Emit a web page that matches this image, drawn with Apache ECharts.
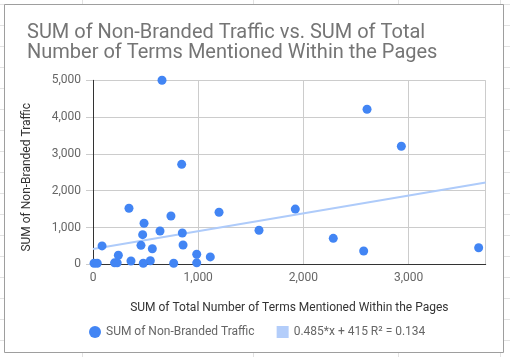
<!DOCTYPE html>
<html><head><meta charset="utf-8">
<script src="https://cdn.jsdelivr.net/npm/echarts@6/dist/echarts.min.js"></script>
<style>html,body{margin:0;padding:0;background:#fff}#c{width:510px;height:357px}</style>
</head><body><div id="c"></div>
<script>
const titleText = 'SUM of Non-Branded Traffic vs. SUM of Total\nNumber of Terms Mentioned Within the Pages';
const xAxisTitle = 'SUM of Total Number of Terms Mentioned Within the Pages';
const yAxisTitle = 'SUM of Non-Branded Traffic';
const seriesName = 'SUM of Non-Branded Traffic';
const trendName = '0.485*x + 415 R² = 0.134';
const termsX = [10,40,205,230,241,361,86,456,472,485,564,545,478,637,741,849,856,767,986,986,1115,1198,342,656,843,1578,1923,2284,2573,2605,2931,3666];
const trafficY = [30,30,40,40,245,90,500,516,805,1114,424,98,30,905,1312,850,524,30,272,40,200,1413,1522,5000,2717,924,1500,706,361,4212,3207,451];
const trendSlope = 0.485, trendIntercept = 415;
const xMax = 3733, yMax = 5000, tickStep = 1000;

const points = termsX.map((x,i)=>[x, trafficY[i]]);
const trend = [[0, trendIntercept],[xMax, trendSlope*xMax + trendIntercept]];

const chart = echarts.init(document.getElementById('c'), null, {renderer:'canvas'});
const fmt = v => v.toLocaleString('en-US');
const bg = [];
[82,253,398,500].forEach(x=>bg.push({type:'line',shape:{x1:x+0.5,y1:0,x2:x+0.5,y2:357},style:{stroke:'#e2e2e2',lineWidth:1},z:-10}));
for(let y=4;y<357;y+=21){bg.push({type:'line',shape:{x1:0,y1:y+0.5,x2:510,y2:y+0.5},style:{stroke:'#e2e2e2',lineWidth:1},z:-10});}
bg.push({type:'rect',shape:{x:4.5,y:4.5,width:499,height:348},style:{fill:'#fff',stroke:'#9e9e9e',lineWidth:1},z:-9});

chart.setOption({
  animation:false,
  textStyle:{fontFamily:'Roboto'},
  graphic: bg,
  title:{text:titleText,left:22,top:18,textStyle:{fontFamily:'Roboto',fontSize:20,fontWeight:'normal',color:'#757575',lineHeight:20}},
  grid:{left:93,right:24.3,top:80.3,bottom:92.7,containLabel:false},
  legend:{left:84,top:321,itemWidth:12,itemHeight:12,itemGap:22,textStyle:{fontFamily:'Roboto',fontSize:12,color:'#666'},
    data:[{name:seriesName,icon:'circle'},{name:trendName,icon:'rect'}]},
  xAxis:{type:'value',min:0,max:xMax,interval:tickStep,
    name:xAxisTitle,nameLocation:'middle',nameGap:38,nameTextStyle:{fontFamily:'Roboto',fontSize:12,color:'#333'},
    axisLine:{show:true,onZero:false,lineStyle:{color:'#333',width:1}},axisTick:{show:false},
    axisLabel:{formatter:fmt,color:'#666',fontSize:12,margin:8,showMaxLabel:false},
    splitLine:{lineStyle:{color:'#ccc'}}},
  yAxis:{type:'value',min:0,max:yMax,interval:tickStep,
    name:yAxisTitle,nameLocation:'middle',nameGap:60,nameTextStyle:{fontFamily:'Roboto',fontSize:12,color:'#333',padding:[0,10,0,0]},
    axisLine:{show:true,onZero:false,lineStyle:{color:'#333',width:1}},axisTick:{show:true,length:7,lineStyle:{color:'#ccc'}},
    axisLabel:{formatter:fmt,color:'#666',fontSize:12,margin:12},
    splitLine:{lineStyle:{color:'#ccc'}}},
  series:[
    {name:trendName,type:'line',data:trend,showSymbol:false,symbol:'none',lineStyle:{color:'#aecbfa',width:2},itemStyle:{color:'#b3cdfa'},z:2,clip:true},
    {name:seriesName,type:'scatter',data:points,symbolSize:9,itemStyle:{color:'#4285f4',opacity:1},z:3,clip:false}
  ]
});
</script></body></html>
